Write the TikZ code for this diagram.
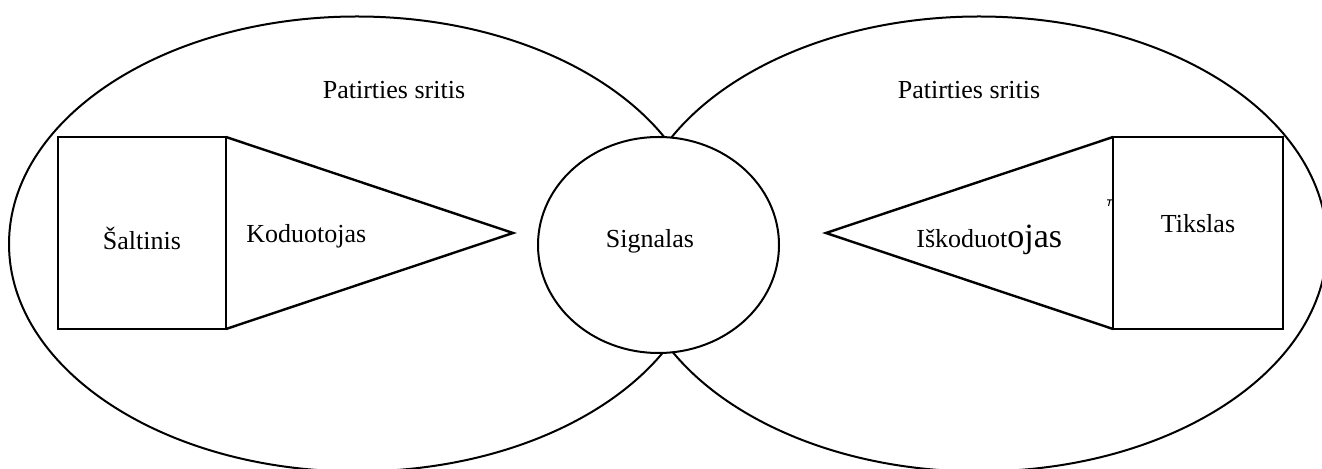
\documentclass[tikz,border=0pt]{standalone}
\usepackage{fontspec}
\setmainfont{Liberation Serif}
\begin{document}
\begin{tikzpicture}[x=0.5pt,y=-0.5pt,
  outline/.style={draw=black,line width=1pt},
  box/.style={draw=black,line width=1.2pt},
  lbl/.style={font=\fontsize{13}{15}\selectfont,inner sep=0pt,anchor=base}]
\useasboundingbox (0,0) rectangle (1322,469);

% two fields of experience, cut off by the page edge
\begin{scope}
  \clip (0,0) rectangle (1322,469);
  \draw[outline] (357,244) ellipse [x radius=348, y radius=227.5];
  \draw[outline] (979,244) ellipse [x radius=348, y radius=227.5];
\end{scope}

% the signal in the overlap
\filldraw[outline,fill=white] (658.5,245) ellipse [x radius=120.5, y radius=108];

% source and encoder
\coordinate (srcTL) at (58,137);
\coordinate (srcBR) at (226,329);
\coordinate (encT) at (226,137);
\coordinate (encB) at (226,329);
\coordinate (encTip) at (513,233);
\draw[box] (srcTL) rectangle (srcBR);
\draw[box] (encT) -- (encTip) -- (encB);

% decoder and destination
\coordinate (dstTL) at (1113,137);
\coordinate (dstBR) at (1283,329);
\coordinate (decT) at (1113,137);
\coordinate (decB) at (1113,329);
\coordinate (decTip) at (826,233);
\draw[box] (dstTL) rectangle (dstBR);
\draw[box] (decT) -- (decTip) -- (decB);
\draw[line width=0.5pt] (1107,200) -- (1112,200) (1110,200) -- (1108.5,206);

% labels
\node[lbl] (fieldL) at (394,99) {Patirties sritis};
\node[lbl] (fieldR) at (969,99) {Patirties sritis};
\node[lbl] (source) at (142,250) {Šaltinis};
\node[lbl,anchor=base west] (encoder) at (246,243) {Koduotojas};
\node[lbl] (signal) at (650,248) {Signalas};
\node[lbl,anchor=base west] (decoder) at (916,248) {Iškoduot{\fontsize{17}{17}\selectfont ojas}};
\node[lbl] (dest) at (1198,233) {Tikslas};
\end{tikzpicture}
\end{document}
